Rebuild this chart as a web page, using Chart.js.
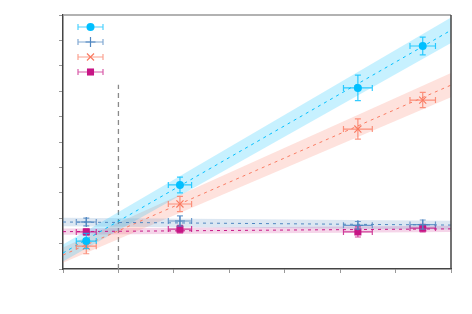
<!DOCTYPE html>
<html>
<head>
<meta charset="utf-8">
<script src="https://cdn.jsdelivr.net/npm/chart.js@4.4.0/dist/chart.umd.min.js"></script>
<style>
html, body { margin: 0; padding: 0; background: #fff; }
#wrap { width: 472px; height: 314px; }
</style>
</head>
<body>
<div id="wrap"><canvas id="c" width="472" height="314"></canvas></div>
<script>
// measured points (same x for every series)
var xVals = [0.42, 2.11, 5.32, 6.49];
var xErr = [0.18, 0.21, 0.26, 0.23];

var cyanY = [1.10, 3.31, 7.13, 8.78];
var cyanErr = [0.30, 0.31, 0.50, 0.35];
var blueY = [1.85, 1.89, 1.72, 1.75];
var blueErr = [0.15, 0.20, 0.15, 0.18];
var salmonY = [0.90, 2.56, 5.51, 6.65];
var salmonErr = [0.30, 0.30, 0.40, 0.30];
var magentaY = [1.46, 1.57, 1.46, 1.61];
var magentaErr = [0.12, 0.15, 0.20, 0.15];

// fitted lines, value at x = 0 and x = 7, with band half widths
var fitX = [0, 7];
var cyanFit = [0.63, 9.40], cyanBand = [0.33, 0.50];
var blueFit = [1.85, 1.73], blueBand = [0.17, 0.17];
var salmonFit = [0.55, 7.24], salmonBand = [0.30, 0.48];
var magentaFit = [1.47, 1.58], magentaBand = [0.12, 0.12];

var cutX = [1, 1], cutY = [0, 7.25];

var colors = {
    cyan: '#00bfff', blue: '#4f86c0', salmon: '#fa7b62', magenta: '#c71585'
};
var bandColors = {
    cyan: 'rgba(0,191,255,0.22)', blue: 'rgba(79,134,192,0.2)',
    salmon: 'rgba(250,123,98,0.22)', magenta: 'rgba(199,21,133,0.18)'
};

function pts(xs, ys) {
    return xs.map(function (x, i) { return {x: x, y: ys[i]}; });
}
function shifted(ys, d, sign) {
    return ys.map(function (y, i) { return y + sign * d[i]; });
}

var datasets = [];
function addSeries(key, ys, yErr, fit, band, style) {
    datasets.push({type: 'line', data: pts(fitX, shifted(fit, band, 1)), borderWidth: 0, pointRadius: 0,
        fill: false, borderColor: 'transparent', order: 10});
    datasets.push({type: 'line', data: pts(fitX, shifted(fit, band, -1)), borderWidth: 0, pointRadius: 0,
        fill: '-1', backgroundColor: bandColors[key], borderColor: 'transparent', order: 10});
    datasets.push({type: 'line', data: pts(fitX, fit), borderWidth: 1, borderDash: [3, 4], pointRadius: 0,
        borderColor: colors[key], fill: false, order: 5});
    datasets.push({type: 'scatter', data: pts(xVals, ys), errX: xErr, errY: yErr,
        pointStyle: style, pointRadius: style === 'rect' ? 5 : (style === 'circle' ? 4 : 5),
        borderColor: colors[key], backgroundColor: colors[key], borderWidth: style === 'circle' || style === 'rect' ? 0 : 1.2,
        order: 1});
}
addSeries('cyan', cyanY, cyanErr, cyanFit, cyanBand, 'circle');
addSeries('blue', blueY, blueErr, blueFit, blueBand, 'cross');
addSeries('salmon', salmonY, salmonErr, salmonFit, salmonBand, 'crossRot');
addSeries('magenta', magentaY, magentaErr, magentaFit, magentaBand, 'rect');
datasets.push({type: 'line', data: pts(cutX, cutY), borderColor: '#8a8a8a', borderWidth: 1.3,
    borderDash: [5, 4], pointRadius: 0, fill: false, order: 20});

function drawBar(ctx, x1, y1, x2, y2, cap, vertical) {
    ctx.beginPath();
    ctx.moveTo(x1, y1); ctx.lineTo(x2, y2);
    if (vertical) {
        ctx.moveTo(x1 - cap, y1); ctx.lineTo(x1 + cap, y1);
        ctx.moveTo(x2 - cap, y2); ctx.lineTo(x2 + cap, y2);
    } else {
        ctx.moveTo(x1, y1 - cap); ctx.lineTo(x1, y1 + cap);
        ctx.moveTo(x2, y2 - cap); ctx.lineTo(x2, y2 + cap);
    }
    ctx.stroke();
}

var errorBars = {
    id: 'errorBars',
    beforeDatasetDraw: function (chart, args) {
        var ds = chart.data.datasets[args.index];
        if (!ds.errX) return;
        var ctx = chart.ctx, xs = chart.scales.x, ys = chart.scales.y;
        ctx.save();
        ctx.strokeStyle = ds.borderColor;
        ctx.globalAlpha = 0.8;
        ctx.lineWidth = 1.2;
        ds.data.forEach(function (p, i) {
            var px = xs.getPixelForValue(p.x), py = ys.getPixelForValue(p.y);
            drawBar(ctx, xs.getPixelForValue(p.x - ds.errX[i]), py, xs.getPixelForValue(p.x + ds.errX[i]), py, 3, false);
            drawBar(ctx, px, ys.getPixelForValue(p.y + ds.errY[i]), px, ys.getPixelForValue(p.y - ds.errY[i]), 3, true);
        });
        ctx.restore();
    }
};

var frame = {
    id: 'frame',
    afterDraw: function (chart) {
        var a = chart.chartArea, ctx = chart.ctx;
        ctx.save();
        ctx.lineWidth = 1.5;
        ctx.strokeStyle = '#999';
        ctx.beginPath(); ctx.moveTo(a.left, a.top); ctx.lineTo(a.right, a.top); ctx.stroke();
        ctx.strokeStyle = '#444';
        ctx.beginPath(); ctx.moveTo(a.right, a.top); ctx.lineTo(a.right, a.bottom); ctx.stroke();
        // legend
        var keys = ['cyan', 'blue', 'salmon', 'magenta'];
        var styles = ['circle', 'cross', 'crossRot', 'rect'];
        keys.forEach(function (k, i) {
            var y = a.top + 12 + i * 15, x1 = a.left + 15, x2 = a.left + 40, xm = (x1 + x2) / 2;
            ctx.strokeStyle = colors[k];
            ctx.lineWidth = 1.2;
            ctx.globalAlpha = 0.7;
            drawBar(ctx, x1, y, x2, y, 3, false);
            ctx.globalAlpha = 1;
            ctx.fillStyle = colors[k];
            Chart.helpers.drawPoint(ctx, {pointStyle: styles[i], radius: i === 0 ? 4 : 5,
                borderWidth: i === 0 || i === 3 ? 0 : 1.2}, xm, y);
        });
        ctx.restore();
    }
};

new Chart(document.getElementById('c'), {
    data: {datasets: datasets},
    plugins: [errorBars, frame],
    options: {
        responsive: false,
        animation: false,
        layout: {padding: {top: 15, right: 21, left: 0, bottom: 0}},
        plugins: {legend: {display: false}, tooltip: {enabled: false}},
        scales: {
            x: {
                type: 'linear', min: 0, max: 7,
                ticks: {display: false, stepSize: 1},
                grid: {drawOnChartArea: false, drawTicks: true, tickLength: 4, color: '#999'},
                border: {color: '#444', width: 1.5},
                afterFit: function (s) { s.height = 45; }
            },
            y: {
                type: 'linear', min: 0, max: 10,
                ticks: {display: false, stepSize: 1},
                grid: {drawOnChartArea: false, drawTicks: true, tickLength: 4, color: '#999'},
                border: {color: '#444', width: 1.5},
                afterFit: function (s) { s.width = 63; }
            }
        }
    }
});
</script>
</body>
</html>
